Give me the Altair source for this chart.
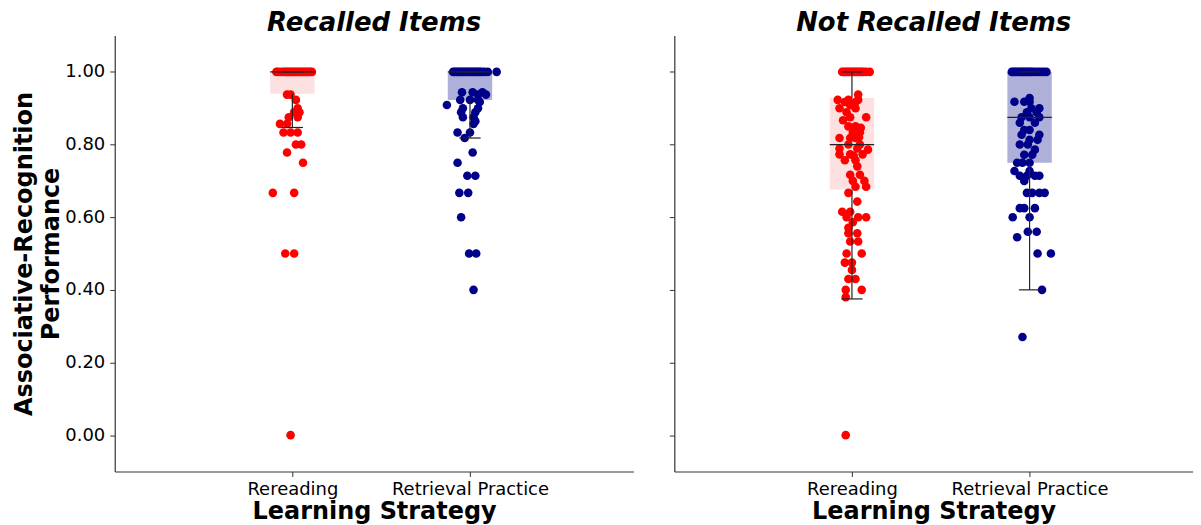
import altair as alt
import pandas as pd

categories = ["Rereading", "Retrieval Practice"]
panel_titles = ["Recalled Items", "Not Recalled Items"]

# ---- Recalled items, Rereading ----
rec_rr_vals = [1.0] * 20 + [
    0.9375, 0.9375, 0.923, 0.90, 0.889, 0.889, 0.875, 0.875, 0.857, 0.857,
    0.833, 0.833, 0.833, 0.80, 0.80, 0.778, 0.75, 0.667, 0.667, 0.5, 0.5, 0.0]
rec_rr_jit = [-0.09, -0.08, -0.065, -0.05, -0.04, -0.03, -0.02, -0.01, 0.0, 0.01,
              0.02, 0.03, 0.04, 0.05, 0.06, 0.07, 0.08, 0.09, 0.10, 0.11] + [
    -0.03, -0.01, 0.02, 0.03, 0.01, 0.04, -0.02, 0.03, -0.07, -0.03,
    -0.05, -0.01, 0.03, 0.02, 0.05, -0.03, 0.06, -0.11, 0.01, -0.04, 0.01, -0.01]

# ---- Recalled items, Retrieval Practice ----
rec_rp_vals = [1.0] * 20 + [
    0.944, 0.944, 0.944, 0.9375, 0.9375, 0.923, 0.923, 0.923, 0.917, 0.909,
    0.90, 0.90, 0.889, 0.889, 0.875, 0.875, 0.864, 0.857, 0.833, 0.833,
    0.818, 0.778, 0.75, 0.714, 0.714, 0.667, 0.667, 0.60, 0.5, 0.5, 0.40]
rec_rp_jit = [-0.095, -0.085, -0.075, -0.065, -0.055, -0.045, -0.035, -0.025, -0.015, -0.005,
              0.005, 0.015, 0.025, 0.035, 0.045, 0.055, 0.065, 0.08, 0.10, 0.15] + [
    -0.045, 0.015, 0.07, 0.045, 0.09, -0.055, 0.0, 0.045, 0.055, -0.13,
    -0.04, 0.045, -0.05, 0.03, -0.04, 0.02, 0.03, 0.02, -0.07, 0.0,
    -0.03, 0.015, -0.07, -0.015, 0.03, -0.06, -0.01, -0.05, -0.005, 0.035, 0.02]

# ---- Not recalled items, Rereading ----
nr_rr_vals = [1.0] * 15 + [
    0.9375, 0.923, 0.923, 0.923, 0.917, 0.917, 0.909, 0.90, 0.90, 0.889,
    0.875, 0.875, 0.867, 0.85, 0.85, 0.846, 0.833, 0.833, 0.82, 0.818,
    0.818, 0.818, 0.80, 0.80, 0.789, 0.789, 0.786, 0.773, 0.773, 0.773,
    0.769, 0.757, 0.757, 0.74, 0.717, 0.717, 0.70, 0.70, 0.684, 0.684,
    0.667, 0.643, 0.615, 0.615, 0.60, 0.60, 0.60, 0.586, 0.571, 0.556,
    0.556, 0.533, 0.533, 0.50, 0.50, 0.475, 0.475, 0.455, 0.43, 0.43,
    0.40, 0.40, 0.38, 0.0]
nr_rr_jit = [-0.055, -0.045, -0.035, -0.025, -0.015, -0.005, 0.005, 0.015, 0.025, 0.035,
             0.045, 0.055, 0.065, 0.08, 0.10] + [
    0.035, -0.08, -0.02, 0.035, -0.04, 0.02, -0.01, -0.07, 0.02, -0.03,
    0.08, -0.01, -0.05, -0.02, 0.02, 0.05, 0.005, 0.045, 0.04, -0.07,
    -0.01, 0.02, -0.02, 0.045, -0.07, 0.03, 0.09, -0.07, -0.01, 0.06,
    0.01, -0.04, 0.02, 0.03, -0.01, 0.045, 0.005, 0.07, 0.08, 0.02,
    -0.02, 0.03, -0.055, -0.01, -0.03, 0.035, 0.08, 0.005, -0.02, -0.02,
    0.03, -0.01, 0.035, -0.03, 0.055, -0.04, 0.0, 0.0, -0.02, 0.02,
    -0.035, 0.055, -0.035, -0.035]

# ---- Not recalled items, Retrieval Practice ----
nr_rp_vals = [1.0] * 18 + [
    0.928, 0.918, 0.918, 0.918, 0.90, 0.90, 0.889, 0.889, 0.875, 0.875,
    0.875, 0.86, 0.86, 0.84, 0.84, 0.827, 0.827, 0.813, 0.813, 0.80,
    0.80, 0.786, 0.772, 0.772, 0.75, 0.75, 0.75, 0.727, 0.727, 0.714,
    0.714, 0.714, 0.714, 0.70, 0.667, 0.667, 0.667, 0.667, 0.625, 0.625,
    0.625, 0.60, 0.60, 0.56, 0.56, 0.545, 0.50, 0.50, 0.40, 0.27]
nr_rp_jit = [-0.10, -0.09, -0.08, -0.07, -0.06, -0.05, -0.04, -0.03, -0.02, -0.01,
             0.0, 0.01, 0.02, 0.035, 0.05, 0.065, 0.08, 0.095] + [
    0.0, -0.085, -0.03, 0.0, 0.01, 0.055, -0.015, 0.04, -0.045, 0.0,
    0.055, -0.055, 0.03, -0.03, 0.0, -0.045, 0.055, 0.0, 0.045, -0.055,
    -0.01, 0.03, -0.03, 0.015, -0.07, -0.04, 0.0, -0.085, 0.0, -0.055,
    -0.015, 0.03, 0.055, -0.03, -0.015, 0.015, 0.055, 0.085, -0.055, -0.03,
    0.03, -0.095, 0.0, -0.01, 0.04, -0.07, 0.045, 0.12, 0.07, -0.04]

# ---- box statistics ----
box_panel = [0, 0, 1, 1]
box_cat = [0, 1, 0, 1]
box_q1 = [0.94, 0.923, 0.676, 0.75]
box_med = [1.0, 1.0, 0.80, 0.875]
box_q3 = [1.0, 1.0, 0.928, 1.0]
box_lo = [0.847, 0.818, 0.375, 0.40]
box_hi = [1.0, 1.0, 1.0, 1.0]

POINT_COLORS = ["#ff0000", "#00008b"]
BOX_COLORS = ["#fde1e1", "#aeb0da"]
BOX_HALF = 0.125
CAP_HALF = 0.06
FONT = "DejaVu Sans"

groups = [
    (0, 0, rec_rr_vals, rec_rr_jit),
    (0, 1, rec_rp_vals, rec_rp_jit),
    (1, 0, nr_rr_vals, nr_rr_jit),
    (1, 1, nr_rp_vals, nr_rp_jit),
]
rows = []
for p, c, vals, jit in groups:
    for v, j in zip(vals, jit):
        rows.append({"panel": p, "x": c + j, "value": v, "color": POINT_COLORS[c]})
points = pd.DataFrame(rows)

boxes = pd.DataFrame({
    "panel": box_panel, "cat": box_cat, "q1": box_q1, "med": box_med,
    "q3": box_q3, "lo": box_lo, "hi": box_hi,
})
boxes["xl"] = boxes["cat"] - BOX_HALF
boxes["xr"] = boxes["cat"] + BOX_HALF
boxes["cl"] = boxes["cat"] - CAP_HALF
boxes["cr"] = boxes["cat"] + CAP_HALF
boxes["fill"] = [BOX_COLORS[c] for c in boxes["cat"]]

W, H = 520, 437
xscale = alt.Scale(domain=[-1, 1.92], nice=False, zero=False)
yscale = alt.Scale(domain=[-0.1, 1.1], nice=False, zero=False)


def panel(idx):
    pts = points[points["panel"] == idx]
    bx = boxes[boxes["panel"] == idx]
    first = idx == 0
    xaxis = alt.Axis(
        values=[0, 1],
        labelExpr="datum.value == 0 ? 'Rereading' : 'Retrieval Practice'",
        title="Learning Strategy", grid=False,
    )
    if first:
        yaxis = alt.Axis(values=[0, 0.2, 0.4, 0.6, 0.8, 1.0], format=".2f",
                         title=["Associative-Recognition", "Performance"], grid=False)
    else:
        yaxis = alt.Axis(values=[0, 0.2, 0.4, 0.6, 0.8, 1.0], labels=False,
                         title=None, grid=False)
    X = lambda f: alt.X(f, type="quantitative", scale=xscale, axis=xaxis)
    Y = lambda f: alt.Y(f, type="quantitative", scale=yscale, axis=yaxis)

    rect = alt.Chart(bx).mark_rect(strokeWidth=0).encode(
        x=X("xl"), x2="xr", y=Y("q1"), y2="q3",
        fill=alt.Fill("fill:N", scale=None))
    dots = alt.Chart(pts).mark_circle(size=74, opacity=1).encode(
        x=X("x"), y=Y("value"), color=alt.Color("color:N", scale=None))
    med = alt.Chart(bx).mark_rule(color="#222222", strokeWidth=1.2).encode(
        x=X("xl"), x2="xr", y=Y("med"))
    wlo = alt.Chart(bx).mark_rule(color="#222222", strokeWidth=1.2).encode(
        x=X("cat"), y=Y("q1"), y2="lo")
    whi = alt.Chart(bx).mark_rule(color="#222222", strokeWidth=1.2).encode(
        x=X("cat"), y=Y("q3"), y2="hi")
    caplo = alt.Chart(bx).mark_rule(color="#222222", strokeWidth=1.2).encode(
        x=X("cl"), x2="cr", y=Y("lo"))
    caphi = alt.Chart(bx).mark_rule(color="#222222", strokeWidth=1.2).encode(
        x=X("cl"), x2="cr", y=Y("hi"))
    return alt.layer(rect, dots, med, wlo, whi, caplo, caphi).properties(
        width=W, height=H,
        title=alt.TitleParams(panel_titles[idx], fontSize=26, fontWeight="bold",
                              fontStyle="italic", font=FONT, anchor="middle",
                              color="black", offset=0),
    )


chart = alt.hconcat(panel(0), panel(1), spacing=35).configure(
    padding={"left": 4, "top": 1, "right": 0, "bottom": 0},
).configure_view(stroke=None).configure_axis(
    domainColor="#333333", tickColor="#333333", tickSize=5, domainWidth=1.2,
    labelFont=FONT, labelFontSize=18, labelColor="black",
    titleFont=FONT, titleFontSize=24, titleFontWeight="bold", titleColor="black",
).configure_axisX(labelPadding=4, titlePadding=1).configure_axisY(
    labelPadding=5, titleFontSize=24, titlePadding=1, titleLineHeight=27)

chart.save("out.html", embed_options={"renderer": "svg", "actions": False})
